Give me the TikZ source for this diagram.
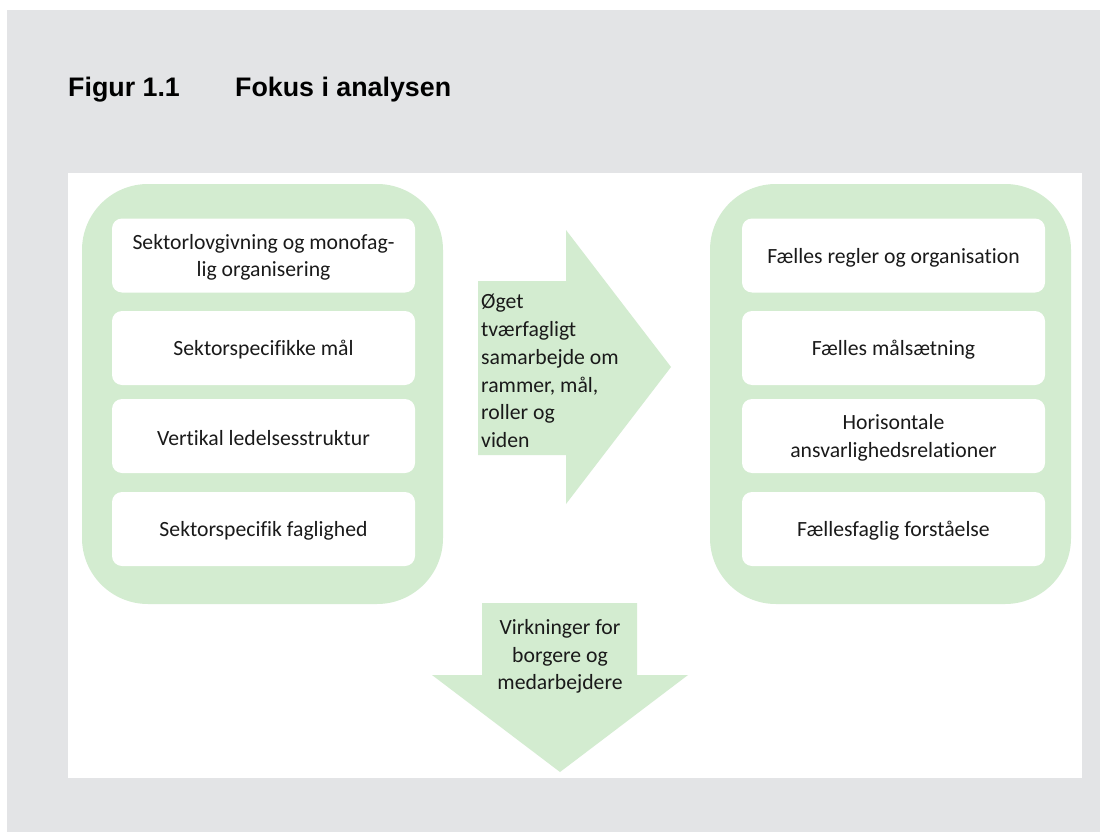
\documentclass[tikz,border=0pt]{standalone}
\usepackage{fontspec}
\setmainfont{Carlito}[Ligatures=NoCommon]
\newfontfamily\titlefont{Liberation Sans}
\definecolor{panelgray}{HTML}{E3E4E6}
\definecolor{lightgreen}{HTML}{D3ECD0}
\definecolor{ink}{HTML}{1A1A1A}
\tikzset{
  greenpanel/.style={fill=lightgreen, draw=none, rounded corners=66pt},
  itembox/.style={fill=white, draw=none, rounded corners=10pt, minimum width=303pt, minimum height=74pt},
  itemtext/.style={align=center, inner sep=0pt, text=ink, font=\fontsize{21.7}{27.5}\selectfont},
  arrowshape/.style={fill=lightgreen, draw=none},
  arrowtext/.style={inner sep=0pt, text=ink, font=\fontsize{21.7}{27.8}\selectfont},
  titletext/.style={inner sep=0pt, anchor=base west, font=\titlefont\bfseries\fontsize{26.8}{30}\selectfont, text=black}
}
\begin{document}
\begin{tikzpicture}[x=1pt,y=-1pt]
\useasboundingbox (0,0) rectangle (1100,832);
\fill[white] (0,0) rectangle (1100,832);
\fill[panelgray] (7,10) rectangle (1100,832);
\fill[white] (68,173) rectangle (1082,778);
% title
\node[titletext] (fig) at (68,97) {Figur 1.1};
\node[titletext] (ttl) at (235,97) {Fokus i analysen};
% green panels
\fill[greenpanel] (82,184) rectangle (443,604);
\fill[greenpanel] (710,184) rectangle (1071,604);
% left boxes
\node[itembox] (l1) at (263.5,255.5) {};
\node[itembox] (l2) at (263.5,348) {};
\node[itembox] (l3) at (263.5,436) {};
\node[itembox] (l4) at (263.5,529) {};
\node[itemtext] (l1t) at ([yshift=-2pt]l1.center) {Sektorlovgivning og monofag-\\lig organisering};
\node[itemtext] (l2t) at ([yshift=-2pt]l2.center) {Sektorspecifikke mål};
\node[itemtext] (l3t) at ([yshift=-2pt]l3.center) {Vertikal ledelsesstruktur};
\node[itemtext] (l4t) at ([yshift=-2pt]l4.center) {Sektorspecifik faglighed};
% right boxes
\node[itembox] (r1) at (893.5,255.5) {};
\node[itembox] (r2) at (893.5,348) {};
\node[itembox] (r3) at (893.5,436) {};
\node[itembox] (r4) at (893.5,529) {};
\node[itemtext] (r1t) at ([yshift=-2pt]r1.center) {Fælles regler og organisation};
\node[itemtext] (r2t) at ([yshift=-2pt]r2.center) {Fælles målsætning};
\node[itemtext] (r3t) at ([yshift=-2pt]r3.center) {Horisontale\\ansvarlighedsrelationer};
\node[itemtext] (r4t) at ([yshift=-2pt]r4.center) {Fællesfaglig forståelse};
% right arrow
\fill[arrowshape] (478,281) -- (566,281) -- (566,230) -- (671,367) -- (566,504) -- (566,455) -- (478,455) -- cycle;
\node[arrowtext, align=left, anchor=west] (at) at (481,371) {Øget\\tværfagligt\\samarbejde om\\rammer, mål,\\roller og\\viden};
% down arrow
\fill[arrowshape] (482,603) -- (637,603) -- (637,675) -- (688,675) -- (560,772) -- (432,675) -- (482,675) -- cycle;
\node[arrowtext, align=center] (dt) at (560,656.5) {Virkninger for\\borgere og\\medarbejdere};
\end{tikzpicture}
\end{document}
